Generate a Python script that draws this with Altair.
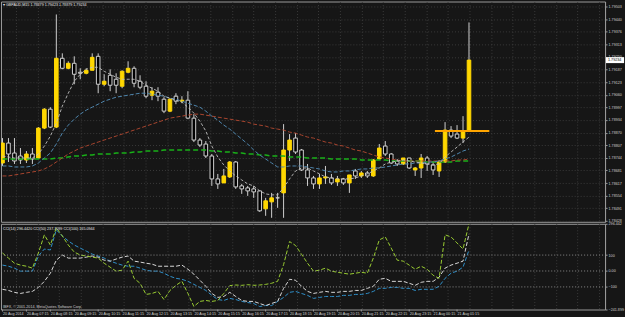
import altair as alt
import pandas as pd

# ---------------- data ----------------
TITLE = "\u25be GBPAUD,M15  1.78879 1.79423 1.78879 1.79234"
CCI_TITLE = "CCI(14) 296.4420  CCI(50) 237.7099  CCI(100) 165.0944"
COPYRIGHT = "IBFX, \u00a9 2001-2014, MetaQuotes Software Corp."
LAST_PRICE = 1.79234

open_ = [1.78718, 1.78818, 1.78768, 1.78753, 1.78733, 1.78763, 1.78743, 1.78893, 1.78988, 1.78898,
         1.79243, 1.79193, 1.79218, 1.79173, 1.79168, 1.79183, 1.79253, 1.79113, 1.79158, 1.79138,
         1.79103, 1.79173, 1.79193, 1.79128, 1.79103, 1.79058, 1.79073, 1.79038, 1.78978, 1.79053,
         1.79028, 1.79033, 1.78943, 1.78833, 1.78813, 1.78753, 1.78638, 1.78618, 1.78648, 1.78723,
         1.78603, 1.78593, 1.78588, 1.78578, 1.78488, 1.78523, 1.78543, 1.78568, 1.78783, 1.78843,
         1.78783, 1.78683, 1.78643, 1.78613, 1.78643, 1.78643, 1.78623, 1.78638, 1.78618, 1.78678,
         1.78653, 1.78668, 1.78653, 1.78738, 1.78803, 1.78763, 1.78728, 1.78713, 1.78743, 1.78683,
         1.78693, 1.78743, 1.78708, 1.78678, 1.78723, 1.78883, 1.78863, 1.78843, 1.78879]
high = [1.78843, 1.78843, 1.78843, 1.78793, 1.78778, 1.78793, 1.78898, 1.78993, 1.78998, 1.79463,
        1.79268, 1.79228, 1.79253, 1.79193, 1.79193, 1.79268, 1.79268, 1.79163, 1.79188, 1.79168,
        1.79183, 1.79228, 1.79203, 1.79158, 1.79128, 1.79098, 1.79098, 1.79048, 1.79043, 1.79068,
        1.79053, 1.79078, 1.78963, 1.78843, 1.78828, 1.78763, 1.78663, 1.78688, 1.78728, 1.78728,
        1.78613, 1.78603, 1.78603, 1.78578, 1.78543, 1.78568, 1.78568, 1.78913, 1.78863, 1.78868,
        1.78788, 1.78713, 1.78653, 1.78663, 1.78703, 1.78663, 1.78653, 1.78643, 1.78658, 1.78688,
        1.78678, 1.78678, 1.78738, 1.78813, 1.78828, 1.78768, 1.78738, 1.78743, 1.78743, 1.78698,
        1.78763, 1.78753, 1.78728, 1.78733, 1.78923, 1.78903, 1.78908, 1.78953, 1.79423]
low = [1.78703, 1.78723, 1.78713, 1.78713, 1.78718, 1.78713, 1.78738, 1.78888, 1.78893, 1.78893,
       1.79188, 1.79188, 1.79113, 1.79138, 1.79163, 1.79183, 1.79068, 1.79103, 1.79078, 1.79068,
       1.79093, 1.79168, 1.79098, 1.79088, 1.79043, 1.79033, 1.79028, 1.78968, 1.78973, 1.79013,
       1.79018, 1.78938, 1.78823, 1.78798, 1.78743, 1.78603, 1.78588, 1.78618, 1.78643, 1.78588,
       1.78563, 1.78553, 1.78543, 1.78473, 1.78453, 1.78443, 1.78493, 1.78443, 1.78728, 1.78763,
       1.78678, 1.78603, 1.78588, 1.78588, 1.78613, 1.78608, 1.78603, 1.78608, 1.78568, 1.78638,
       1.78643, 1.78643, 1.78648, 1.78733, 1.78753, 1.78713, 1.78703, 1.78708, 1.78688, 1.78653,
       1.78643, 1.78678, 1.78658, 1.78648, 1.78718, 1.78843, 1.78838, 1.78818, 1.78879]
close = [1.78818, 1.78763, 1.78728, 1.78733, 1.78763, 1.78738, 1.78893, 1.78988, 1.78898, 1.79243,
         1.79193, 1.79218, 1.79163, 1.79168, 1.79183, 1.79248, 1.79113, 1.79128, 1.79108, 1.79108,
         1.79178, 1.79193, 1.79118, 1.79098, 1.79053, 1.79078, 1.79053, 1.78978, 1.79038, 1.79028,
         1.79033, 1.78943, 1.78833, 1.78808, 1.78753, 1.78638, 1.78613, 1.78653, 1.78723, 1.78598,
         1.78588, 1.78578, 1.78573, 1.78478, 1.78528, 1.78543, 1.78543, 1.78783, 1.78833, 1.78773,
         1.78683, 1.78643, 1.78613, 1.78643, 1.78648, 1.78618, 1.78638, 1.78618, 1.78658, 1.78653,
         1.78668, 1.78653, 1.78733, 1.78793, 1.78763, 1.78718, 1.78713, 1.78743, 1.78693, 1.78693,
         1.78743, 1.78713, 1.78683, 1.78723, 1.78883, 1.78853, 1.78843, 1.78873, 1.79234]

ma_fast = [1.78753, 1.78748, 1.78743, 1.78743, 1.78743, 1.78743, 1.78763, 1.78803, 1.78853, 1.78918,
           1.79003, 1.79068, 1.79128, 1.79163, 1.79188, 1.79198, 1.79198, 1.79178, 1.79163, 1.79148,
           1.79138, 1.79138, 1.79138, 1.79128, 1.79108, 1.79093, 1.79078, 1.79053, 1.79043, 1.79033,
           1.79023, 1.78998, 1.78968, 1.78928, 1.78878, 1.78803, 1.78748, 1.78708, 1.78678, 1.78653,
           1.78633, 1.78613, 1.78603, 1.78578, 1.78563, 1.78558, 1.78558, 1.78593, 1.78638, 1.78678,
           1.78693, 1.78693, 1.78678, 1.78663, 1.78648, 1.78643, 1.78638, 1.78638, 1.78638, 1.78643,
           1.78653, 1.78663, 1.78678, 1.78693, 1.78713, 1.78723, 1.78728, 1.78733, 1.78728, 1.78723,
           1.78718, 1.78713, 1.78708, 1.78713, 1.78748, 1.78773, 1.78798, 1.78823, 1.78848]
ma_mid = [1.78703, 1.78703, 1.78698, 1.78698, 1.78698, 1.78703, 1.78718, 1.78743, 1.78768, 1.78813,
          1.78868, 1.78908, 1.78938, 1.78963, 1.78983, 1.78998, 1.79013, 1.79028, 1.79038, 1.79048,
          1.79053, 1.79058, 1.79063, 1.79068, 1.79068, 1.79063, 1.79058, 1.79053, 1.79043, 1.79038,
          1.79028, 1.79018, 1.79008, 1.78998, 1.78978, 1.78953, 1.78933, 1.78908, 1.78888, 1.78863,
          1.78838, 1.78813, 1.78783, 1.78758, 1.78738, 1.78718, 1.78698, 1.78698, 1.78703, 1.78703,
          1.78703, 1.78698, 1.78693, 1.78688, 1.78678, 1.78673, 1.78673, 1.78678, 1.78678, 1.78683,
          1.78688, 1.78688, 1.78693, 1.78693, 1.78698, 1.78703, 1.78708, 1.78713, 1.78713, 1.78718,
          1.78718, 1.78723, 1.78723, 1.78728, 1.78738, 1.78748, 1.78763, 1.78778, 1.78788]
ma_slow = [1.78653, 1.78653, 1.78658, 1.78663, 1.78668, 1.78673, 1.78678, 1.78688, 1.78703, 1.78723,
           1.78743, 1.78763, 1.78778, 1.78793, 1.78803, 1.78813, 1.78823, 1.78833, 1.78843, 1.78853,
           1.78863, 1.78873, 1.78883, 1.78893, 1.78903, 1.78913, 1.78923, 1.78933, 1.78943, 1.78948,
           1.78953, 1.78958, 1.78963, 1.78963, 1.78958, 1.78953, 1.78948, 1.78943, 1.78938, 1.78933,
           1.78928, 1.78923, 1.78913, 1.78908, 1.78903, 1.78893, 1.78888, 1.78883, 1.78873, 1.78868,
           1.78858, 1.78848, 1.78843, 1.78833, 1.78823, 1.78818, 1.78808, 1.78803, 1.78793, 1.78783,
           1.78778, 1.78768, 1.78758, 1.78748, 1.78743, 1.78738, 1.78733, 1.78728, 1.78728, 1.78728,
           1.78728, 1.78728, 1.78728, 1.78728, 1.78728, 1.78728, 1.78733, 1.78733, 1.78738]
ma_long = [1.78738, 1.78738, 1.78738, 1.78738, 1.78738, 1.78738, 1.78738, 1.78738, 1.78738, 1.78743,
           1.78743, 1.78748, 1.78753, 1.78753, 1.78758, 1.78758, 1.78763, 1.78763, 1.78763, 1.78768,
           1.78768, 1.78768, 1.78773, 1.78773, 1.78778, 1.78778, 1.78778, 1.78783, 1.78783, 1.78783,
           1.78783, 1.78783, 1.78783, 1.78783, 1.78783, 1.78778, 1.78778, 1.78773, 1.78773, 1.78768,
           1.78768, 1.78763, 1.78763, 1.78758, 1.78758, 1.78753, 1.78753, 1.78753, 1.78748, 1.78748,
           1.78748, 1.78743, 1.78743, 1.78743, 1.78743, 1.78738, 1.78738, 1.78738, 1.78738, 1.78738,
           1.78733, 1.78733, 1.78733, 1.78733, 1.78733, 1.78728, 1.78728, 1.78728, 1.78728, 1.78728,
           1.78728, 1.78723, 1.78723, 1.78723, 1.78723, 1.78723, 1.78728, 1.78728, 1.78728]

cci_14 = [113, 81, 49, 37, 30, 18, 113, 227, 163, 271,
          220, 163, 119, 100, 94, 87, 81, 49, 24, -1,
          5, 62, -46, -77, -147, -141, -128, -179, -122, -90,
          -65, -141, -223, -191, -185, -191, -185, -141, -92, -88,
          -90, -86, -90, -88, -84, -77, -65, 40, 185, 160,
          105, 49, -1, 5, 18, -1, -8, -14, -20, -14,
          -8, -14, 81, 195, 214, 144, 68, 62, 37, 11,
          30, 11, -27, -46, 227, 214, 176, 138, 296.442]
cci_50 = [-115, -122, -134, -141, -134, -128, -103, -65, -14, 68,
          100, 81, 81, 81, 87, 94, 87, 68, 62, 75,
          87, 94, 62, 56, 49, 43, 30, 30, 30, 30,
          37, 11, -20, -58, -96, -141, -166, -160, -134, -160,
          -185, -191, -191, -204, -217, -204, -191, -109, -52, -58,
          -96, -128, -141, -134, -128, -134, -134, -128, -128, -122,
          -122, -109, -96, -52, -46, -65, -65, -65, -77, -90,
          -71, -65, -65, -39, 18, 37, 49, 62, 233]
cci_100 = [37, 30, 18, -1, -1, -1, 94, 138, 132, 258,
           220, 189, 163, 144, 125, 106, 94, 81, 62, 49,
           37, 30, 30, 18, 5, -1, -1, -14, -33, -46,
           -52, -65, -84, -103, -122, -153, -179, -185, -172, -179,
           -191, -198, -204, -223, -217, -217, -191, -166, -134, -128,
           -141, -153, -172, -166, -160, -160, -160, -153, -153, -147,
           -147, -141, -128, -109, -109, -103, -103, -109, -109, -122,
           -115, -115, -115, -96, -46, -14, -1, 24, 132]

cci_levels = [100, 0, -100]
cci_ticks = [296.442, 100, 0, -100, -241.899]
cci_range = [-241.899, 296.442]

price_ticks = [1.79503, 1.79440, 1.79376, 1.79313, 1.79250, 1.79187, 1.79123, 1.79060, 1.78997,
               1.78934, 1.78870, 1.78807, 1.78744, 1.78681, 1.78617, 1.78554, 1.78491, 1.78428]
price_range = [1.78423, 1.79528]

time_labels = ["20 Aug 2014", "20 Aug 07:15", "20 Aug 08:15", "20 Aug 09:15", "20 Aug 10:15",
               "20 Aug 11:15", "20 Aug 12:15", "20 Aug 13:15", "20 Aug 14:15", "20 Aug 15:15",
               "20 Aug 16:15", "20 Aug 17:15", "20 Aug 18:15", "20 Aug 19:15", "20 Aug 20:15",
               "20 Aug 21:15", "20 Aug 22:15", "20 Aug 23:15", "21 Aug 00:15", "21 Aug 01:15"]
label_every = 4  # bars between time labels

hline_price = 1.78879
hline_from, hline_to = 72.3, 81.4

# ---------------- styling ----------------
BG = "#161616"
GRID = "#3a3a3a"
TXT = "#d0d0d0"
YEL = "#FFD700"
WICK = "#cfcfcf"
FONT = "Liberation Sans"
FS = 3.7
W = 606
H_MAIN = 221
H_CCI = 86

n = len(close)
df = pd.DataFrame({"i": list(range(n)), "open": open_, "high": high, "low": low, "close": close,
                   "ma_fast": ma_fast, "ma_mid": ma_mid, "ma_slow": ma_slow, "ma_long": ma_long,
                   "cci14": cci_14, "cci50": cci_50, "cci100": cci_100})

xs = alt.Scale(domain=[-0.25, 100.75], nice=False, zero=False)
ys = alt.Scale(domain=price_range, nice=False, zero=False)
ys2 = alt.Scale(domain=cci_range, nice=False, zero=False)

grid_idx = [(15 + 21.667 * k) / 6 - 0.25 for k in range(28)]
X_AXIS = alt.Axis(values=grid_idx, grid=True, gridColor=GRID, gridDash=[1, 2], labels=False,
                  ticks=False, domain=False, title=None)
Y_AXIS = alt.Axis(orient="right", values=price_ticks, format=".5f", grid=True, gridColor=GRID,
                  gridDash=[1, 2], labelFontSize=FS, labelFont=FONT, labelColor=TXT, tickSize=2,
                  tickColor="#9a9a9a", domainColor="#9a9a9a", labelPadding=1, title=None)
Y2_AXIS = alt.Axis(orient="right", values=cci_ticks, grid=False, labelFontSize=FS, labelFont=FONT,
                   labelColor=TXT, tickSize=2, tickColor="#9a9a9a", domainColor="#9a9a9a",
                   labelPadding=1, title=None,
                   labelExpr="datum.value == 0 ? '0.00' : (abs(datum.value) == 100 ? format(datum.value, 'd') : format(datum.value, '.3f'))")


def X(f):
    return alt.X(f, scale=xs, axis=X_AXIS)


def Y(f):
    return alt.Y(f, scale=ys, axis=Y_AXIS)


def Y2(f):
    return alt.Y(f, scale=ys2, axis=Y2_AXIS)


base = alt.Chart(df)

wicks = base.mark_rule(color=WICK, strokeWidth=1, clip=True).encode(
    x=X("i:Q"), y=Y("low:Q"), y2="high:Q")

is_bull = "datum.close > datum.open"
bodies = base.transform_calculate(
    xa="datum.i - 0.3", xb="datum.i + 0.3",
    lo="min(datum.open, datum.close)", hi="max(datum.open, datum.close)",
).mark_rect(strokeWidth=1, clip=True).encode(
    x=X("xa:Q"), x2="xb:Q", y=Y("lo:Q"), y2="hi:Q",
    fill=alt.condition(is_bull, alt.value(YEL), alt.value("#000000")),
    stroke=alt.condition(is_bull, alt.value(YEL), alt.value(WICK)),
)


def ma_line(col, color, width, dash):
    return base.mark_line(color=color, strokeWidth=width, strokeDash=dash, clip=True).encode(
        x=X("i:Q"), y=Y(f"{col}:Q"))


mas = [ma_line("ma_long", "#18b018", 1.5, [5, 3]),
       ma_line("ma_slow", "#a8452f", 1, [4, 2]),
       ma_line("ma_mid", "#4f86ad", 1, [4, 2]),
       ma_line("ma_fast", "#c0c0c0", 0.9, [3, 2])]

hline = alt.Chart(pd.DataFrame({"a": [hline_from], "b": [hline_to], "p": [hline_price]})).mark_rule(
    color="#FFA500", strokeWidth=2, clip=True).encode(x=X("a:Q"), x2="b:Q", y=Y("p:Q"))

title = alt.Chart(pd.DataFrame({"t": [TITLE]})).mark_text(
    align="left", baseline="middle", fontSize=FS, font=FONT, color="#e8e8e8").encode(
    text="t:N", x=alt.value(2), y=alt.value(4))

box_path = "M-1,-0.33L1,-0.33L1,0.33L-1,0.33Z"
last_df = pd.DataFrame({"p": [LAST_PRICE], "t": [f"{LAST_PRICE:.5f}"]})
last_box = alt.Chart(last_df).mark_point(shape=box_path, filled=True, color="#ffffff", opacity=1,
                                         size=330, strokeWidth=0).encode(
    x=alt.value(616), y=Y("p:Q"))
last_txt = alt.Chart(last_df).mark_text(align="left", baseline="middle", fontSize=FS, font=FONT,
                                        color="#000000").encode(
    x=alt.value(609), y=Y("p:Q"), text="t:N")

main = alt.layer(wicks, bodies, *mas, hline, title, last_box, last_txt).properties(
    width=W, height=H_MAIN)

# ---------------- CCI pane ----------------
lvl = alt.Chart(pd.DataFrame({"v": cci_levels})).mark_rule(
    color="#8c8c8c", strokeDash=[1, 2], strokeWidth=1).encode(
    x=alt.value(0), x2=alt.value(W), y=Y2("v:Q"))


def cci_line(col, color):
    return base.mark_line(color=color, strokeWidth=1, strokeDash=[4, 2], clip=True).encode(
        x=X("i:Q"), y=Y2(f"{col}:Q"))


ccis = [cci_line("cci100", "#2f8fc8"), cci_line("cci50", "#d8d8d8"), cci_line("cci14", "#9acd32")]

tdf = pd.DataFrame({"i": [k * label_every for k in range(len(time_labels))], "lab": time_labels})
tlabels = alt.Chart(tdf).mark_text(align="left", baseline="middle", fontSize=FS, font=FONT,
                                   color=TXT, dx=0.5).encode(
    x=X("i:Q"), y=alt.value(H_CCI + 4.5), text="lab:N")
tticks = alt.Chart(tdf).mark_rule(color="#9a9a9a", strokeWidth=1).encode(
    x=X("i:Q"), y=alt.value(H_CCI), y2=alt.value(H_CCI + 2))

hdr = alt.Chart(pd.DataFrame({"t": [CCI_TITLE]})).mark_text(
    align="left", baseline="middle", fontSize=FS, font=FONT, color="#e8e8e8").encode(
    text="t:N", x=alt.value(2), y=alt.value(5))
copy = alt.Chart(pd.DataFrame({"t": [COPYRIGHT]})).mark_text(
    align="left", baseline="middle", fontSize=FS, font=FONT, color="#cfcfcf").encode(
    text="t:N", x=alt.value(2), y=alt.value(H_CCI - 3))

cci = alt.layer(*ccis, lvl, hdr, copy, tticks, tlabels).properties(width=W, height=H_CCI)

chart = alt.vconcat(main, cci, spacing=2, bounds="flush").properties(
    background=BG, padding=0
).configure_view(stroke="#9a9a9a", strokeWidth=1, fill=BG)

chart.save("out.html", embed_options={"renderer": "svg", "actions": False})
